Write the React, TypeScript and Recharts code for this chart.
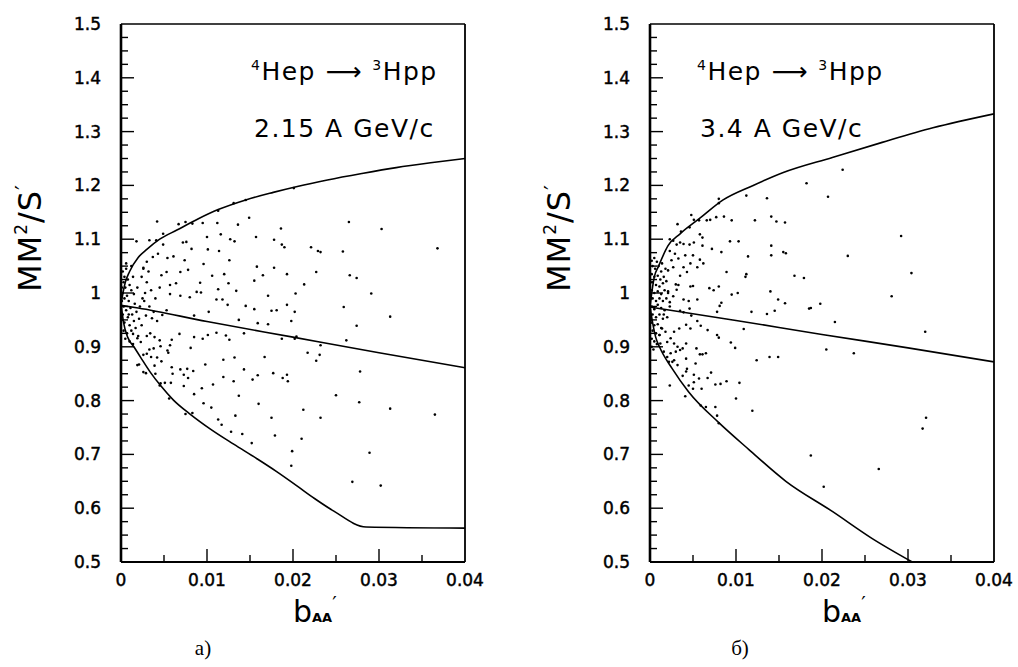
import React from 'react';
import { ComposedChart, Line, Scatter, XAxis, YAxis } from 'recharts';

// axis ticks
const xTicks = [0, 0.005, 0.01, 0.015, 0.02, 0.025, 0.03, 0.035, 0.04];
const xLabels = [0, 0.01, 0.02, 0.03, 0.04];
const yTicks = [
  0.5, 0.525, 0.55, 0.575, 0.6, 0.625, 0.65, 0.675, 0.7, 0.725, 0.75, 0.775, 0.8, 0.825, 0.85, 0.875,
  0.9, 0.925, 0.95, 0.975, 1, 1.025, 1.05, 1.075, 1.1, 1.125, 1.15, 1.175, 1.2, 1.225, 1.25, 1.275,
  1.3, 1.325, 1.35, 1.375, 1.4, 1.425, 1.45, 1.475, 1.5,
];
const yLabels = [0.5, 0.6, 0.7, 0.8, 0.9, 1, 1.1, 1.2, 1.3, 1.4, 1.5];

// panel a) 2.15 A GeV/c : kinematic boundaries
const leftUpper: [number, number][] = [
  [0, 0.98], [0.0005, 1.02], [0.001, 1.04], [0.002, 1.066], [0.003, 1.081], [0.0045, 1.1], [0.0065, 1.117],
  [0.009, 1.138], [0.0113, 1.155], [0.0145, 1.173], [0.0177, 1.187], [0.0205, 1.198], [0.024, 1.21],
  [0.028, 1.222], [0.032, 1.233], [0.036, 1.242], [0.04, 1.25],
];
const leftMiddle: [number, number][] = [
  [0, 0.977], [0.002, 0.972], [0.01, 0.947], [0.02, 0.918], [0.03, 0.889], [0.04, 0.861],
];
const leftLower: [number, number][] = [
  [0, 0.98], [0.0003, 0.945], [0.0008, 0.917], [0.0015, 0.9], [0.0023, 0.88], [0.0034, 0.853], [0.0046, 0.828],
  [0.0061, 0.801], [0.0081, 0.774], [0.0104, 0.747], [0.0131, 0.719], [0.0158, 0.692], [0.0181, 0.668],
  [0.0205, 0.641], [0.0225, 0.618], [0.0247, 0.595], [0.0285, 0.565], [0.04, 0.563],
];
const leftEvents: [number, number][] = [
  // near the axis
  [0.0002, 1.04], [0.0004, 1.03], [0.0006, 1.045], [0.0003, 1.02], [0.0008, 1.025], [0.0005, 1.01], [0.001, 1.015],
  [0.0002, 1.0], [0.0007, 0.995], [0.0012, 1.005], [0.0004, 0.99], [0.0009, 0.985], [0.0015, 0.998], [0.0003, 0.975],
  [0.0006, 0.968], [0.0011, 0.972], [0.0016, 0.98], [0.0002, 0.96], [0.0008, 0.955], [0.0013, 0.96], [0.0018, 0.965],
  [0.0004, 0.945], [0.001, 0.94], [0.0015, 0.948], [0.0021, 0.952], [0.0003, 0.93], [0.0007, 0.925], [0.0012, 0.93],
  [0.0017, 0.935], [0.0005, 0.915], [0.001, 0.91], [0.0014, 0.905], [0.002, 0.92], [0.0024, 0.94], [0.0022, 0.975],
  [0.0019, 1.01], [0.0014, 1.03], [0.0025, 0.99], [0.0028, 1.0], [0.0006, 1.055], [0.0012, 1.05], [0.0009, 0.96],
  [0.0001, 0.985], [0.0001, 0.95], [0.0001, 1.01], [0.0024, 1.03], [0.003, 1.02], [0.0035, 1.005], [0.0027, 0.985],
  [0.0033, 0.975], [0.004, 0.99], [0.0038, 0.965], [0.0029, 0.958], [0.0042, 0.948], [0.0026, 1.045], [0.0032, 1.04],
  [0.0045, 1.01],
  // upper half
  [0.0042, 1.133], [0.0067, 1.128], [0.0075, 1.132], [0.0083, 1.129], [0.0095, 1.13], [0.0112, 1.13], [0.0136, 1.127],
  [0.0149, 1.14], [0.0186, 1.12], [0.0131, 1.167], [0.0145, 1.173], [0.0113, 1.153], [0.0201, 1.195], [0.0049, 1.11],
  [0.0033, 1.098], [0.0041, 1.098], [0.0018, 1.096], [0.0072, 1.094], [0.0076, 1.095], [0.01, 1.104], [0.0116, 1.109],
  [0.0127, 1.1], [0.0132, 1.096], [0.0157, 1.104], [0.0178, 1.099], [0.0187, 1.09], [0.019, 1.085], [0.0082, 1.082],
  [0.0101, 1.081], [0.0114, 1.078], [0.0049, 1.09], [0.0043, 1.073], [0.0037, 1.067], [0.0054, 1.065], [0.0061, 1.068],
  [0.0074, 1.061], [0.0126, 1.061], [0.0096, 1.054], [0.0158, 1.049], [0.0178, 1.047], [0.003, 1.058], [0.0026, 1.047],
  [0.0069, 1.039], [0.0078, 1.043], [0.0053, 1.039], [0.0047, 1.033], [0.0106, 1.032], [0.012, 1.035], [0.0165, 1.033],
  [0.0193, 1.035], [0.0057, 1.015], [0.0064, 1.018], [0.0092, 1.019], [0.0125, 1.018], [0.0155, 1.023], [0.0088, 1.002],
  [0.0093, 1.001], [0.0057, 0.998], [0.0069, 0.995], [0.008, 0.992], [0.0113, 1.007], [0.0111, 0.988], [0.0118, 0.988],
  [0.0134, 1.004], [0.0171, 0.995], [0.0203, 0.999], [0.0124, 0.978], [0.0145, 0.976], [0.0155, 0.97], [0.0175, 0.967],
  [0.0181, 0.968], [0.0193, 0.978], [0.0202, 0.965], [0.0102, 0.965], [0.0085, 0.958], [0.0053, 0.968], [0.0048, 0.959],
  [0.0036, 0.953], [0.0137, 0.95], [0.0159, 0.944], [0.0171, 0.942],
  // lower half
  [0.0068, 0.924], [0.0085, 0.918], [0.0095, 0.915], [0.0101, 0.922], [0.0111, 0.926], [0.0122, 0.921], [0.0126, 0.913],
  [0.0143, 0.925], [0.0187, 0.915], [0.0202, 0.915], [0.003, 0.92], [0.0034, 0.925], [0.0039, 0.918], [0.0045, 0.912],
  [0.0059, 0.913], [0.0019, 0.916], [0.0023, 0.909], [0.0014, 0.924], [0.0057, 0.903], [0.0046, 0.901], [0.0033, 0.895],
  [0.0038, 0.897], [0.0054, 0.893], [0.0055, 0.889], [0.0081, 0.898], [0.0026, 0.885], [0.0035, 0.881], [0.0042, 0.88],
  [0.003, 0.887], [0.0039, 0.865], [0.0047, 0.873], [0.0019, 0.866], [0.0021, 0.867], [0.0059, 0.862], [0.006, 0.85],
  [0.0026, 0.853], [0.0029, 0.851], [0.004, 0.85], [0.0069, 0.858], [0.0077, 0.859], [0.0084, 0.855], [0.0073, 0.848],
  [0.0078, 0.842], [0.0098, 0.867], [0.0119, 0.876], [0.0132, 0.88], [0.0143, 0.858], [0.0167, 0.881], [0.0119, 0.844],
  [0.0131, 0.836], [0.0153, 0.839], [0.0159, 0.847], [0.0177, 0.851], [0.0188, 0.842], [0.0193, 0.848], [0.0194, 0.836],
  [0.0046, 0.832], [0.0051, 0.833], [0.0058, 0.833], [0.0045, 0.828], [0.0073, 0.827], [0.0094, 0.823], [0.0107, 0.83],
  [0.0085, 0.812], [0.0137, 0.809], [0.0056, 0.804], [0.0096, 0.795], [0.0105, 0.787], [0.016, 0.794], [0.0075, 0.775],
  [0.0083, 0.777], [0.0133, 0.772], [0.0175, 0.768], [0.0113, 0.765], [0.0117, 0.755], [0.0128, 0.742], [0.0141, 0.738],
  [0.0179, 0.735], [0.0152, 0.721], [0.0199, 0.706], [0.0198, 0.679],
  // right part
  [0.0265, 1.132], [0.0303, 1.119], [0.0221, 1.085], [0.0229, 1.078], [0.0232, 1.076], [0.0258, 1.077], [0.0368, 1.083],
  [0.0227, 1.039], [0.0266, 1.033], [0.0274, 1.028], [0.0213, 1.016], [0.0291, 0.999], [0.0259, 0.974], [0.0198, 0.948],
  [0.0313, 0.956], [0.0274, 0.939], [0.0204, 0.919], [0.0262, 0.912], [0.0232, 0.903], [0.0217, 0.889], [0.0231, 0.885],
  [0.0227, 0.874], [0.0278, 0.854], [0.025, 0.81], [0.0277, 0.797], [0.0212, 0.783], [0.0313, 0.785], [0.0365, 0.774],
  [0.0232, 0.768], [0.021, 0.729], [0.0289, 0.703], [0.0269, 0.649], [0.0302, 0.642],
];

// panel б) 3.4 A GeV/c
const rightUpper: [number, number][] = [
  [0, 0.975], [0.0005, 1.03], [0.001, 1.05], [0.0021, 1.088], [0.0035, 1.11], [0.0058, 1.139], [0.0085, 1.173],
  [0.012, 1.2], [0.0155, 1.224], [0.0212, 1.252], [0.027, 1.28], [0.0329, 1.307], [0.04, 1.333],
];
const rightMiddle: [number, number][] = [
  [0, 0.974], [0.01, 0.949], [0.02, 0.923], [0.03, 0.898], [0.04, 0.872],
];
const rightLower: [number, number][] = [
  [0, 0.975], [0.0003, 0.945], [0.00066, 0.918], [0.0011, 0.9], [0.0026, 0.859], [0.0045, 0.816], [0.008, 0.759],
  [0.0115, 0.709], [0.0158, 0.65], [0.0212, 0.594], [0.0258, 0.544], [0.0305, 0.5],
];
const rightEvents: [number, number][] = [
  // near the axis
  [0.0002, 1.06], [0.0005, 1.065], [0.0008, 1.058], [0.0003, 1.05], [0.0006, 1.045], [0.001, 1.05], [0.0013, 1.04],
  [0.0002, 1.035], [0.0005, 1.03], [0.0009, 1.032], [0.0012, 1.025], [0.0016, 1.03], [0.0003, 1.02], [0.0007, 1.015],
  [0.0011, 1.012], [0.0015, 1.018], [0.0019, 1.022], [0.0002, 1.005], [0.0005, 1.0], [0.0009, 1.003], [0.0013, 0.998],
  [0.0017, 1.005], [0.0021, 1.0], [0.0003, 0.99], [0.0007, 0.985], [0.0011, 0.99], [0.0015, 0.985], [0.0019, 0.99],
  [0.0002, 0.975], [0.0005, 0.97], [0.0009, 0.978], [0.0013, 0.972], [0.0017, 0.968], [0.0023, 0.975], [0.0003, 0.96],
  [0.0007, 0.955], [0.0011, 0.96], [0.0015, 0.952], [0.0002, 0.945], [0.0005, 0.94], [0.0009, 0.942], [0.0013, 0.935],
  [0.0003, 0.93], [0.0007, 0.925], [0.0011, 0.922], [0.0002, 0.915], [0.0005, 0.91], [0.0008, 0.905], [0.0002, 0.9],
  [0.0004, 0.895], [0.0001, 0.99], [0.0001, 1.02], [0.0001, 0.95], [0.0014, 1.055], [0.0018, 1.045], [0.0016, 0.96],
  [0.002, 0.955],
  // upper half
  [0.008, 1.175], [0.008, 1.167], [0.0112, 1.181], [0.0136, 1.176], [0.0032, 1.128], [0.0048, 1.145], [0.0051, 1.136],
  [0.0057, 1.135], [0.0066, 1.135], [0.007, 1.136], [0.0077, 1.141], [0.0086, 1.142], [0.0095, 1.135], [0.0122, 1.135],
  [0.0141, 1.142], [0.0147, 1.133], [0.0036, 1.114], [0.0046, 1.122], [0.0058, 1.109], [0.0061, 1.103], [0.0023, 1.1],
  [0.0027, 1.097], [0.0035, 1.094], [0.0031, 1.09], [0.0039, 1.091], [0.0046, 1.09], [0.0051, 1.094], [0.0061, 1.088],
  [0.0072, 1.082], [0.0093, 1.096], [0.0103, 1.096], [0.0083, 1.076], [0.0114, 1.068], [0.0141, 1.088], [0.0141, 1.07],
  [0.0155, 1.076], [0.0023, 1.078], [0.0029, 1.073], [0.0025, 1.061], [0.0033, 1.064], [0.0041, 1.07], [0.005, 1.07],
  [0.0058, 1.062], [0.0062, 1.055], [0.0039, 1.048], [0.0047, 1.055], [0.0055, 1.048], [0.0027, 1.048], [0.0021, 1.042],
  [0.0043, 1.039], [0.0035, 1.032], [0.0089, 1.039], [0.0112, 1.035], [0.0111, 1.03], [0.003, 1.016], [0.0033, 1.015],
  [0.0031, 1.006], [0.0047, 1.012], [0.005, 1.013], [0.0069, 1.009], [0.0074, 1.005], [0.008, 1.012], [0.0095, 0.997],
  [0.0102, 1.0], [0.014, 1.003], [0.0149, 0.988], [0.0021, 1.003], [0.0039, 0.988], [0.0045, 0.985], [0.0055, 0.988],
  [0.0027, 0.994], [0.0023, 0.983], [0.0083, 0.982], [0.0081, 0.976], [0.0046, 0.971], [0.0039, 0.964], [0.0035, 0.967],
  [0.0048, 0.958], [0.0078, 0.965], [0.0136, 0.961], [0.0145, 0.967], [0.0118, 0.965],
  // lower half
  [0.0109, 0.933], [0.0078, 0.922], [0.008, 0.917], [0.0094, 0.908], [0.0099, 0.898], [0.0124, 0.875], [0.0139, 0.881],
  [0.0149, 0.881], [0.0119, 0.781], [0.01, 0.804], [0.0104, 0.833], [0.0089, 0.836], [0.0082, 0.831], [0.0076, 0.83],
  [0.0071, 0.852], [0.0067, 0.842], [0.006, 0.822], [0.005, 0.822], [0.0041, 0.808], [0.0023, 0.828], [0.0057, 0.841],
  [0.0051, 0.848], [0.0042, 0.854], [0.0043, 0.859], [0.0038, 0.846], [0.0053, 0.869], [0.0061, 0.886], [0.0058, 0.886],
  [0.0054, 0.897], [0.0065, 0.888], [0.0042, 0.906], [0.0038, 0.897], [0.0035, 0.894], [0.003, 0.891], [0.0032, 0.9],
  [0.0028, 0.906], [0.0024, 0.916], [0.002, 0.909], [0.0018, 0.928], [0.0028, 0.928], [0.0034, 0.934], [0.0042, 0.941],
  [0.0047, 0.934], [0.0055, 0.948], [0.0067, 0.931], [0.0059, 0.939], [0.0024, 0.888], [0.0022, 0.872], [0.0032, 0.866],
  [0.0028, 0.875], [0.0042, 0.878], [0.0051, 0.834], [0.0045, 0.828], [0.0059, 0.791], [0.0065, 0.788], [0.0076, 0.788],
  [0.0078, 0.772], [0.008, 0.758], [0.0014, 0.934], [0.0011, 0.922], [0.0012, 0.906], [0.0016, 0.891], [0.002, 0.881],
  [0.0026, 0.872],
  // right part
  [0.0224, 1.229], [0.0182, 1.204], [0.0207, 1.179], [0.0157, 1.131], [0.0292, 1.106], [0.0158, 1.074], [0.023, 1.069],
  [0.0168, 1.032], [0.0179, 1.028], [0.0304, 1.037], [0.0281, 0.994], [0.0157, 0.981], [0.0185, 0.971], [0.0187, 0.972],
  [0.0198, 0.98], [0.0215, 0.946], [0.032, 0.928], [0.0205, 0.895], [0.0237, 0.888], [0.0321, 0.768], [0.0317, 0.748],
  [0.0187, 0.698], [0.0266, 0.673], [0.0202, 0.64],
];

const toPts = (a: [number, number][]) => a.map(([x, y]) => ({ x, y }));

const FONT = "'DejaVu Sans', 'Liberation Sans', sans-serif";

const fmtX = (v: number) => (v === 0 ? '0' : String(v));
const fmtY = (v: number) => (v === 1 ? '1' : v.toFixed(1));

const XTick = (props: any) => {
  const { x, y, payload } = props;
  const v = payload.value;
  const major = xLabels.includes(v);
  return (
    <g>
      {v !== 0 && v !== 0.04 && (
        <line x1={x} y1={y} x2={x} y2={y - (major ? 13 : 7)} stroke="#000" strokeWidth={1.4} />
      )}
      {major && (
        <text x={x} y={y + 24} textAnchor="middle" fontFamily={FONT} fontSize={17} fill="#000" stroke="#000" strokeWidth={0.45}>
          {fmtX(v)}
        </text>
      )}
    </g>
  );
};

const YTick = (props: any) => {
  const { x, y, payload } = props;
  const v = payload.value;
  const major = yLabels.some((m) => Math.abs(m - v) < 1e-6);
  return (
    <g>
      {v !== 0.5 && v !== 1.5 && (
        <line x1={x} y1={y} x2={x + (major ? 13 : 7)} y2={y} stroke="#000" strokeWidth={1.4} />
      )}
      {major && (
        <text x={x - 20} y={y + 6} textAnchor="end" fontFamily={FONT} fontSize={17} fill="#000" stroke="#000" strokeWidth={0.45}>
          {fmtY(v)}
        </text>
      )}
    </g>
  );
};

const Dot = (props: any) => <circle cx={props.cx} cy={props.cy} r={1.3} fill="#000" />;

type PanelProps = {
  upper: [number, number][];
  middle: [number, number][];
  lower: [number, number][];
  events: [number, number][];
  margin: { top: number; right: number; bottom: number; left: number };
};

function Panel({ upper, middle, lower, events, margin }: PanelProps) {
  return (
    <ComposedChart width={509} height={667} margin={margin}>
      <XAxis
        dataKey="x" type="number" domain={[0, 0.04]} ticks={xTicks} interval={0} allowDataOverflow
        height={1} tickSize={0} tickMargin={0} tickLine={false} tick={<XTick />}
        axisLine={{ stroke: '#000', strokeWidth: 2.2 }}
      />
      <XAxis
        xAxisId="top" orientation="top" type="number" domain={[0, 0.04]} height={1}
        tick={false} tickLine={false} axisLine={{ stroke: '#000', strokeWidth: 1.6 }}
      />
      <YAxis
        dataKey="y" type="number" domain={[0.5, 1.5]} ticks={yTicks} interval={0} allowDataOverflow
        width={1} tickSize={0} tickMargin={0} tickLine={false} tick={<YTick />}
        axisLine={{ stroke: '#000', strokeWidth: 2.6 }}
      />
      <YAxis
        yAxisId="right" orientation="right" type="number" domain={[0.5, 1.5]} width={1}
        tick={false} tickLine={false} axisLine={{ stroke: '#000', strokeWidth: 1.8 }}
      />
      <Scatter data={toPts(events)} dataKey="y" shape={Dot} isAnimationActive={false} />
      <Line data={toPts(upper)} dataKey="y" type="monotone" stroke="#000" strokeWidth={1.6} dot={false} activeDot={false} isAnimationActive={false} />
      <Line data={toPts(middle)} dataKey="y" type="monotone" stroke="#000" strokeWidth={1.6} dot={false} activeDot={false} isAnimationActive={false} />
      <Line data={toPts(lower)} dataKey="y" type="monotone" stroke="#000" strokeWidth={1.6} dot={false} activeDot={false} isAnimationActive={false} />
    </ComposedChart>
  );
}

function Labels({ ox, axisX, energy }: { ox: number; axisX: number; energy: string }) {
  return (
    <g fontFamily={FONT} fill="#000">
      <text transform={`translate(${axisX - 80},238) rotate(-90)`} textAnchor="middle" fontSize={32} letterSpacing={1}>
        MM
        <tspan fontSize={17} dy={-14}>2</tspan>
        <tspan dy={14}>/S</tspan>
        <tspan fontSize={22} dy={-10}>′</tspan>
      </text>
      <text x={ox} y={80} fontSize={25} letterSpacing={1.5}>
        <tspan fontSize={14} dy={-10}>4</tspan>
        <tspan dy={10}>Hep ⟶ </tspan>
        <tspan fontSize={14} dy={-10}>3</tspan>
        <tspan dy={10}>Hpp</tspan>
      </text>
      <text x={ox + 3} y={137} fontSize={25} letterSpacing={1.5}>{energy}</text>
      <text x={axisX + 172} y={622} fontSize={30}>
        b<tspan fontSize={13} fontWeight="bold">AA</tspan>
        <tspan fontSize={20} dy={-12}>′</tspan>
      </text>
    </g>
  );
}

export default function App() {
  return (
    <div style={{ position: 'absolute', left: 0, top: 0, width: 1018, height: 667, background: '#fff' }}>
      <div style={{ position: 'absolute', left: 0, top: 0 }}>
        <Panel upper={leftUpper} middle={leftMiddle} lower={leftLower} events={leftEvents}
          margin={{ top: 23, right: 43, bottom: 104, left: 120 }} />
      </div>
      <div style={{ position: 'absolute', left: 509, top: 0 }}>
        <Panel upper={rightUpper} middle={rightMiddle} lower={rightLower} events={rightEvents}
          margin={{ top: 23, right: 23, bottom: 104, left: 140 }} />
      </div>
      <svg width={1018} height={667} style={{ position: 'absolute', left: 0, top: 0, pointerEvents: 'none' }}>
        <Labels ox={251} axisX={121} energy="2.15 A GeV/c" />
        <Labels ox={697} axisX={650} energy="3.4 A GeV/c" />
        <text x={203} y={655} textAnchor="middle" fontFamily="'Liberation Serif', serif" fontSize={21}>a)</text>
        <text x={740} y={655} textAnchor="middle" fontFamily="'Liberation Serif', serif" fontSize={21}>б)</text>
      </svg>
    </div>
  );
}
